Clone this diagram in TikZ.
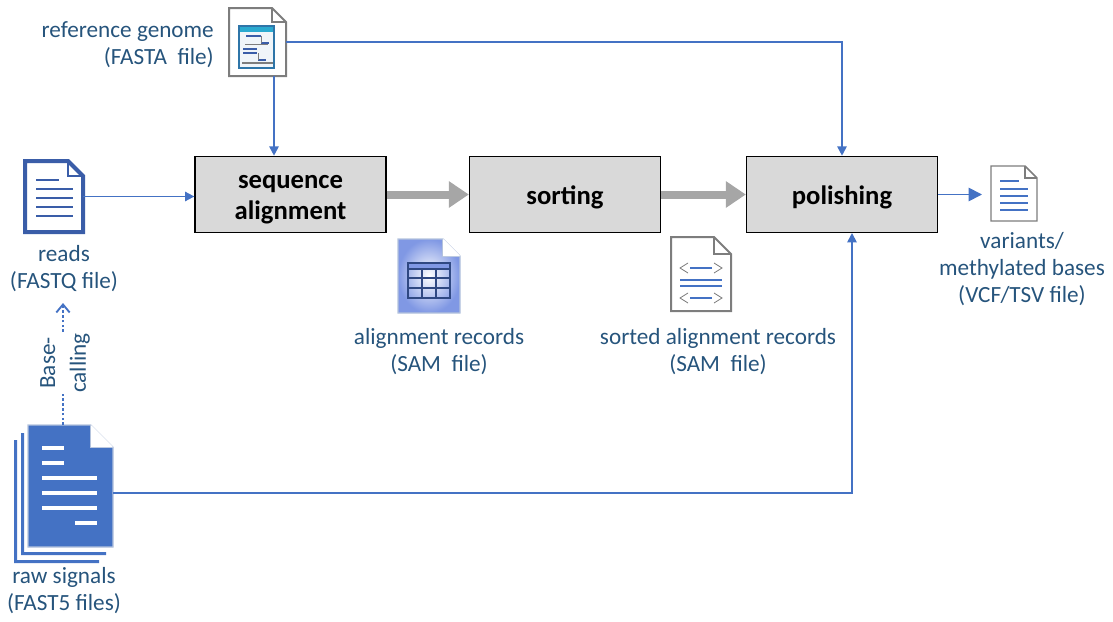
\documentclass[tikz,border=0pt]{standalone}
\usepackage{fontspec}
\setmainfont{Carlito}
\usetikzlibrary{arrows.meta, calc, positioning}
\definecolor{linkblue}{RGB}{68,114,196}
\definecolor{labelblue}{RGB}{38,84,124}
\definecolor{stepgray}{RGB}{217,217,217}
\definecolor{flowgray}{RGB}{166,166,166}
\definecolor{readsblue}{RGB}{58,93,168}
\definecolor{sheetedge}{RGB}{125,125,125}
\definecolor{rawedge}{RGB}{180,195,221}
\definecolor{tableblue}{RGB}{128,152,228}
\definecolor{tablenavy}{RGB}{47,72,130}
\definecolor{wintitle}{RGB}{42,170,208}
\definecolor{winedge}{RGB}{46,117,168}
\tikzset{
    stepbox/.style={draw=black, line width=1.2pt, fill=stepgray, minimum width=143pt, minimum height=57pt, align=center, inner sep=0pt, font=\fontsize{20}{23.5}\selectfont\bfseries},
    docspot/.style={inner sep=0pt, outer sep=0pt},
    filelabel/.style={text=labelblue, align=center, inner sep=0pt, font=\fontsize{17.4}{20.3}\selectfont},
    datalink/.style={draw=linkblue, line width=1.3pt, -{Triangle[length=7pt,width=7pt]}},
    flowarrow/.style={draw=flowgray, line width=6pt, -{Triangle[length=15pt,width=19pt]}},
    textline/.style={line width=1.5pt}
}
\newcommand{\steplift}{\rule{0pt}{18pt}}
% outline of a sheet with a folded corner, on top of a named node
\newcommand{\docsheet}[4]{
    \path[#3] (#1.north west) -- ($(#1.north east)+(-#2,0)$) -- ($(#1.north east)+(0,#2)$) -- (#1.south east) -- (#1.south west) -- cycle;
    \path[#4] ($(#1.north east)+(-#2,0)$) |- ($(#1.north east)+(0,#2)$);
}
\begin{document}
\begin{tikzpicture}[x=0.75pt, y=-0.75pt]
    \useasboundingbox (0,0) rectangle (1113,621);

    % Pipeline steps
    \node[stepbox] (seqalign) at (290.5,194.5) {\steplift sequence\\alignment};
    \node[stepbox] (sorting) at (565,194.5) {\steplift sorting};
    \node[stepbox] (polishing) at (842,194.5) {\steplift polishing};
    \draw[flowarrow] (seqalign) -- (sorting);
    \draw[flowarrow] (sorting) -- (polishing);

    % Reference genome
    \node[docspot, minimum width=42.75pt, minimum height=51pt] (refdoc) at (257.5,42) {};
    \docsheet{refdoc}{14}{draw=sheetedge, line width=1.5pt, fill=white}{draw=sheetedge, line width=1.5pt}
    \fill[white!93!winedge] (239,26) rectangle (274,68);
    \fill[wintitle] (239,26) rectangle (274,32);
    \draw[winedge, line width=0.8pt] (239,26) rectangle (274,68);
    \draw[readsblue, line width=1.5pt] (246,35.5) -- (261,35.5) (261,42.5) -- (269,42.5) (243,49) -- (257,49) (243,53) -- (257,53) (258,60) -- (266,60);
    \draw[sheetedge, line width=0.5pt] (261,35.5) -- (261,42.5) (258,53) -- (258,60);
    \draw[sheetedge, line width=1pt] (245,44.5) -- (268,44.5) (242,63) -- (273,63);
    \node[filelabel, align=right, anchor=east] (reflabel) at (214,45) {reference genome\\(FASTA\ \ file)};
    \coordinate (refdown) at (274,76);
    \draw[datalink] (refdown) -- (refdown |- seqalign.north);
    \draw[datalink] (refdoc.east) -| (polishing.north);

    % Reads
    \node[docspot, minimum width=43.5pt, minimum height=53.25pt] (readsdoc) at (54,196.5) {};
    \docsheet{readsdoc}{15}{draw=readsblue, line width=3pt, fill=white}{draw=readsblue, line width=2pt}
    \draw[readsblue, textline] (36,179.5) -- (59,179.5);
    \foreach \ypos in {188.5,197.5,206.5,215.5}
        \draw[readsblue, textline] (36,\ypos) -- (73,\ypos);
    \node[filelabel] (readslabel) at (64,269) {reads\\(FASTQ file)};
    \draw[datalink] (readsdoc.east) -- (readsdoc.east -| seqalign.west);

    % Raw signals
    \fill[linkblue] (14,440) rectangle (17,563) (14,560) rectangle (99,563);
    \fill[linkblue] (21,433) rectangle (24,555) (21,552) rectangle (106,555);
    \node[docspot, minimum width=63.75pt, minimum height=91.5pt] (rawdoc) at (70.5,486) {};
    \docsheet{rawdoc}{22}{draw=rawedge, line width=0.8pt, fill=linkblue}{draw=rawedge, line width=0.8pt, fill=white}
    \fill[white] (91,425) -- (113,447) -- (91,447) -- cycle;
    \foreach \ypos in {448,463}
        \draw[white, line width=2.6pt] (42,\ypos) -- (64,\ypos);
    \foreach \ypos in {478,493,508}
        \draw[white, line width=2.6pt] (42,\ypos) -- (97,\ypos);
    \draw[white, line width=2.6pt] (75,523) -- (97,523);
    \node[filelabel] (rawlabel) at (64,591) {raw signals\\(FAST5 files)};
    \coordinate (rawout) at (113,493);
    \coordinate (polishin) at (852,233);
    \draw[datalink] (rawout) -| (polishin);

    % Base-calling
    \node[filelabel, rotate=90, font=\fontsize{17.4}{23}\selectfont] (baselabel) at (65,363) {Base-\\calling};
    \coordinate (basestart) at (63,425);
    \coordinate (basegapa) at (63,394);
    \coordinate (basegapb) at (63,332);
    \coordinate (baseend) at (63,303);
    \draw[linkblue, line width=1.4pt, dash pattern=on 2pt off 1.6pt] (basestart) -- (basegapa);
    \draw[linkblue, line width=1.4pt, dash pattern=on 2pt off 1.6pt, -{Straight Barb[length=6pt,width=10pt]}] (basegapb) -- (baseend);

    % Alignment records
    \node[docspot, minimum width=46.5pt, minimum height=55.5pt] (tabledoc) at (429,276) {};
    \docsheet{tabledoc}{17}{draw=rawedge, line width=0.8pt, inner color=white, outer color=tableblue}{draw=rawedge, line width=0.8pt, fill=white}
    \fill[white] (443,239) -- (460,256) -- (443,256) -- cycle;
    \fill[tableblue] (408,263) rectangle (450,269);
    \draw[tablenavy, line width=0.8pt] (408,263) rectangle (450,298) (408,269) -- (450,269) (408,278) -- (450,278) (408,288) -- (450,288) (422,269) -- (422,298) (436,269) -- (436,298);
    \node[filelabel] (tablelabel) at (439,352) {alignment records\\(SAM\ \ file)};

    % Sorted alignment records
    \node[docspot, minimum width=45pt, minimum height=55.5pt] (sorteddoc) at (701,274) {};
    \docsheet{sorteddoc}{17}{draw=sheetedge, line width=1.5pt, fill=white}{draw=sheetedge, line width=1.5pt}
    \foreach \ypos in {268,298} {
        \draw[sheetedge, line width=0.6pt] (688,\ypos-5) -- (680,\ypos) -- (688,\ypos+5) (714,\ypos-5) -- (722,\ypos) -- (714,\ypos+5);
        \draw[linkblue, line width=1.2pt] (690,\ypos) -- (712,\ypos);
    }
    \foreach \ypos in {280,286}
        \draw[linkblue, line width=1.2pt] (680,\ypos) -- (722,\ypos);
    \node[filelabel] (sortedlabel) at (718,352) {sorted alignment records\\(SAM\ \ file)};

    % Variants
    \node[docspot, minimum width=34.5pt, minimum height=41.25pt] (outdoc) at (1014,193.5) {};
    \docsheet{outdoc}{12}{draw=sheetedge, line width=1.1pt, fill=white}{draw=sheetedge, line width=1.1pt}
    \draw[linkblue, line width=1.2pt] (1000,181) -- (1019,181);
    \foreach \ypos in {189,196,203,210}
        \draw[linkblue, line width=1.2pt] (1000,\ypos) -- (1028,\ypos);
    \node[filelabel] (outlabel) at (1022,269) {variants/\\methylated bases\\(VCF/TSV file)};
    \draw[datalink, shorten >=6.75pt, -{Triangle[length=10pt,width=10pt]}] (polishing.east) -- (outdoc.west |- polishing.east);
\end{tikzpicture}
\end{document}
